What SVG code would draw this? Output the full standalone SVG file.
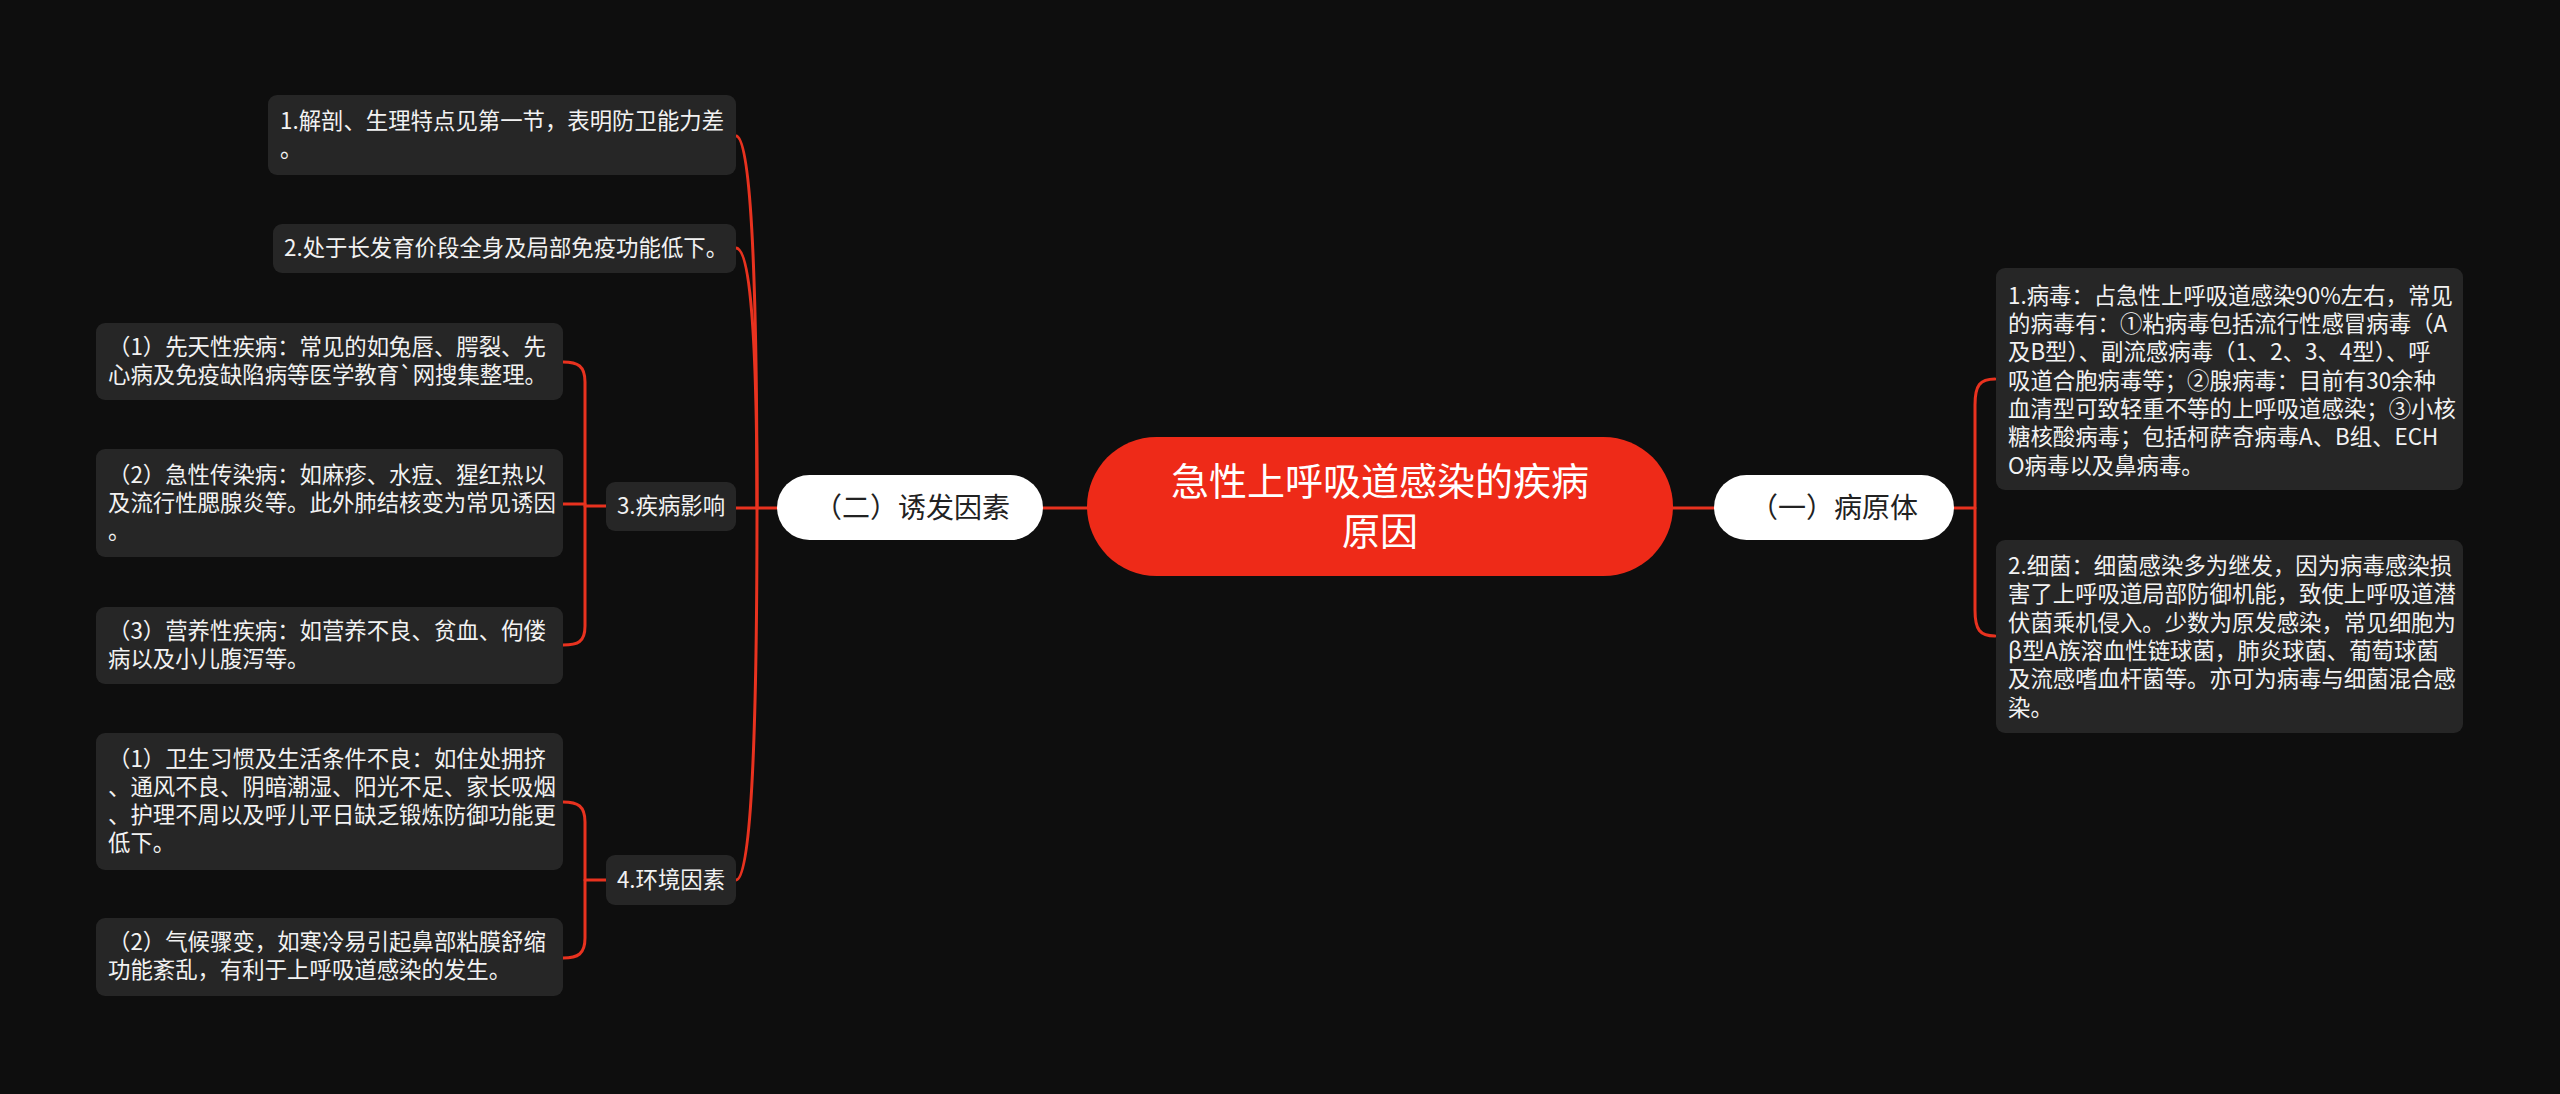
<svg xmlns="http://www.w3.org/2000/svg" width="2560" height="1094" viewBox="0 0 2560 1094">
<style>
text{font-family:"Noto Sans CJK SC","Noto Sans",sans-serif;}
.box{fill:#262626;}
.t{fill:#f2f2f2;font-size:22.4px;}
.tc{fill:#f2f2f2;font-size:22.4px;text-anchor:middle;}
.pill{fill:#ffffff;}
.pt{fill:#222222;font-size:28px;text-anchor:middle;}
.ct{fill:#ffffff;font-size:38px;text-anchor:middle;}
.ln{fill:none;stroke:#e8321f;stroke-width:3;stroke-linecap:round;}
</style>
<rect width="2560" height="1094" fill="#0e0e0e"/>
<g id="connectors">
<path class="ln" d="M1043 508 L1087 508"/>
<path class="ln" d="M1673 508 L1714 508"/>
<path class="ln" d="M777 508 L757 508"/>
<path class="ln" d="M757 508 Q757 136 736 136"/>
<path class="ln" d="M757 508 Q757 248 736 248"/>
<path class="ln" d="M757 508 L736 508"/>
<path class="ln" d="M757 508 Q757 880 736 880"/>
<path class="ln" d="M1954 508 L1975 508"/>
<path class="ln" d="M1995 379 C1980 379 1975 385 1975 405 L1975 610 C1975 630 1980 636 1995 636"/>
<path class="ln" d="M606 506 L585 506"/>
<path class="ln" d="M563 362 C578 362 585 366 585 382 L585 626 C585 642 578 645 563 645"/>
<path class="ln" d="M563 504 L585 504"/>
<path class="ln" d="M606 880 L585 880"/>
<path class="ln" d="M563 802 C578 802 585 806 585 822 L585 938 C585 954 578 958 563 958"/>
</g>
<g id="root">
<rect x="1087" y="437" width="586" height="139" rx="69.5" fill="#ee2a18"/>
<text class="ct" x="1380" y="495">急性上呼吸道感染的疾病</text>
<text class="ct" x="1380" y="545">原因</text>
</g>
<g id="n-youfa">
<rect class="pill" x="777" y="475" width="266" height="65" rx="32.5"/>
<text class="pt" x="912" y="518">（二）诱发因素</text>
</g>
<g id="n-bingyuan">
<rect class="pill" x="1714" y="475" width="240" height="65" rx="32.5"/>
<text class="pt" x="1834" y="518">（一）病原体</text>
</g>
<g id="n-virus">
<rect class="box" x="1996" y="268" width="467" height="222" rx="9"/>
<text class="t" x="2008" y="304">1.病毒：占急性上呼吸道感染90%左右，常见</text>
<text class="t" x="2008" y="332">的病毒有：①粘病毒包括流行性感冒病毒（A</text>
<text class="t" x="2008" y="360">及B型）、副流感病毒（1、2、3、4型）、呼</text>
<text class="t" x="2008" y="389">吸道合胞病毒等；②腺病毒：目前有30余种</text>
<text class="t" x="2008" y="417">血清型可致轻重不等的上呼吸道感染；③小核</text>
<text class="t" x="2008" y="445">糖核酸病毒；包括柯萨奇病毒A、B组、ECH</text>
<text class="t" x="2008" y="474">O病毒以及鼻病毒。</text>
</g>
<g id="n-bacteria">
<rect class="box" x="1996" y="540" width="467" height="193" rx="9"/>
<text class="t" x="2008" y="574">2.细菌：细菌感染多为继发，因为病毒感染损</text>
<text class="t" x="2008" y="602">害了上呼吸道局部防御机能，致使上呼吸道潜</text>
<text class="t" x="2008" y="631">伏菌乘机侵入。少数为原发感染，常见细胞为</text>
<text class="t" x="2008" y="659">β型A族溶血性链球菌，肺炎球菌、葡萄球菌</text>
<text class="t" x="2008" y="687">及流感嗜血杆菌等。亦可为病毒与细菌混合感</text>
<text class="t" x="2008" y="716">染。</text>
</g>
<g id="n-l1">
<rect class="box" x="268" y="95" width="468" height="80" rx="9"/>
<text class="t" x="280" y="129">1.解剖、生理特点见第一节，表明防卫能力差</text>
<text class="t" x="280" y="157">。</text>
</g>
<g id="n-l2">
<rect class="box" x="273" y="224" width="463" height="49" rx="9"/>
<text class="t" x="284" y="256">2.处于长发育价段全身及局部免疫功能低下。</text>
</g>
<g id="n-disease">
<rect class="box" x="606" y="482" width="130" height="49" rx="9"/>
<text class="tc" x="671" y="514">3.疾病影响</text>
</g>
<g id="n-d1">
<rect class="box" x="96" y="323" width="467" height="77" rx="9"/>
<text class="t" x="108" y="355">（1）先天性疾病：常见的如兔唇、腭裂、先</text>
<text class="t" x="108" y="383">心病及免疫缺陷病等医学教育`网搜集整理。</text>
</g>
<g id="n-d2">
<rect class="box" x="96" y="449" width="467" height="108" rx="9"/>
<text class="t" x="108" y="483">（2）急性传染病：如麻疹、水痘、猩红热以</text>
<text class="t" x="108" y="511">及流行性腮腺炎等。此外肺结核变为常见诱因</text>
<text class="t" x="108" y="539">。</text>
</g>
<g id="n-d3">
<rect class="box" x="96" y="607" width="467" height="77" rx="9"/>
<text class="t" x="108" y="639">（3）营养性疾病：如营养不良、贫血、佝偻</text>
<text class="t" x="108" y="667">病以及小儿腹泻等。</text>
</g>
<g id="n-env">
<rect class="box" x="606" y="855" width="130" height="50" rx="9"/>
<text class="tc" x="671" y="888">4.环境因素</text>
</g>
<g id="n-e1">
<rect class="box" x="96" y="733" width="467" height="137" rx="9"/>
<text class="t" x="108" y="767">（1）卫生习惯及生活条件不良：如住处拥挤</text>
<text class="t" x="108" y="795">、通风不良、阴暗潮湿、阳光不足、家长吸烟</text>
<text class="t" x="108" y="823">、护理不周以及呼儿平日缺乏锻炼防御功能更</text>
<text class="t" x="108" y="851">低下。</text>
</g>
<g id="n-e2">
<rect class="box" x="96" y="918" width="467" height="78" rx="9"/>
<text class="t" x="108" y="950">（2）气候骤变，如寒冷易引起鼻部粘膜舒缩</text>
<text class="t" x="108" y="978">功能紊乱，有利于上呼吸道感染的发生。</text>
</g>
</svg>
